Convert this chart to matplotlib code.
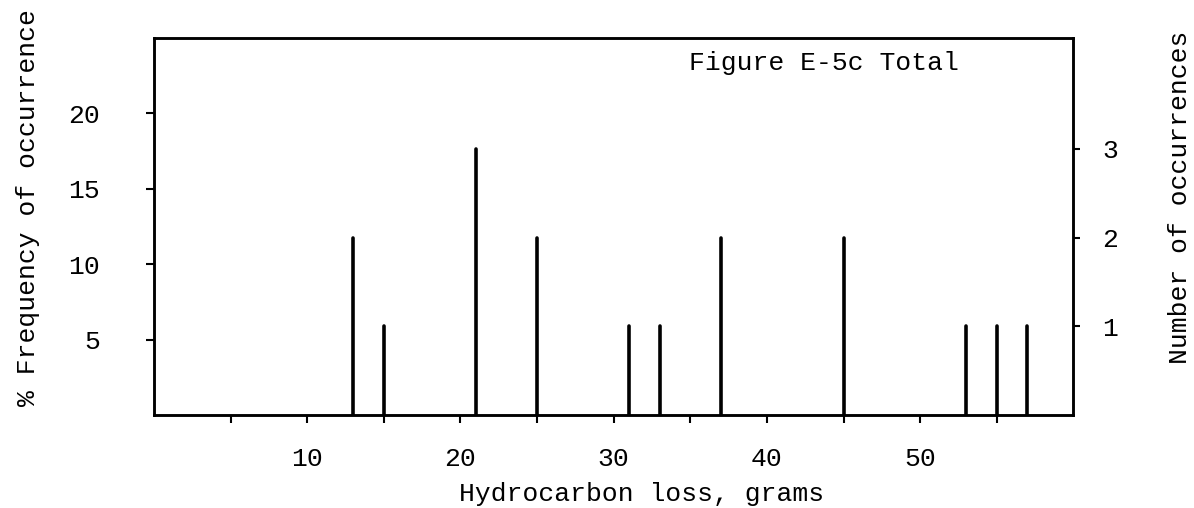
import numpy as np
import matplotlib.pyplot as plt

# hydrocarbon loss (grams) and number of occurrences
hc_loss = [13, 15, 21, 25, 31, 33, 37, 45, 53, 55, 57]
counts = [2, 1, 3, 2, 1, 1, 2, 2, 1, 1, 1]

x_ticks = [5, 10, 15, 20, 25, 30, 35, 40, 45, 50, 55]
x_labels = ['', '10', '', '20', '', '30', '', '40', '', '50', '']
pct_ticks = [5, 10, 15, 20]
count_ticks = [1, 2, 3]

total = sum(counts)
pct = np.array(counts) / total * 100.0

plt.rcParams['font.family'] = ['Liberation Mono', 'DejaVu Sans Mono']
plt.rcParams['font.size'] = 19

fig = plt.figure(figsize=(11.94, 5.08), dpi=100)
ax = fig.add_axes([0.129, 0.183, 0.770, 0.742])

ax.vlines(hc_loss, 0, pct, color='black', linewidth=2.6, capstyle='round')

ax.set_xlim(0, 60)
ax.set_ylim(0, 25)
ax.set_xticks(x_ticks)
ax.set_xticklabels(x_labels)
ax.set_yticks(pct_ticks)
ax.tick_params(axis='x', direction='out', length=6, width=1.5, pad=17)
ax.tick_params(axis='y', direction='out', length=6, width=1.5, pad=33)
for s in ax.spines.values():
    s.set_linewidth(1.8)

ax.set_xlabel('Hydrocarbon loss, grams')
ax.xaxis.set_label_coords(0.53, -0.21)
ax.xaxis.label.set_va('center')
ax.set_ylabel('% Frequency of occurrence')
ax.yaxis.set_label_coords(-0.137, 0.55)
ax.yaxis.label.set_va('center')

ax.text(0.875, 0.934, 'Figure E-5c Total', transform=ax.transAxes,
        ha='right', va='center')

ax2 = ax.twinx()
ax2.set_ylim(0, 25 * total / 100.0)
ax2.set_yticks(count_ticks)
ax2.tick_params(axis='y', direction='out', length=5, width=1.5, pad=16)
ax2.set_ylabel('Number of occurrences')
ax2.yaxis.set_label_coords(1.116, 0.578)
ax2.yaxis.label.set_va('center')
for s in ax2.spines.values():
    s.set_linewidth(1.8)

fig.savefig('out.png', dpi=100)
